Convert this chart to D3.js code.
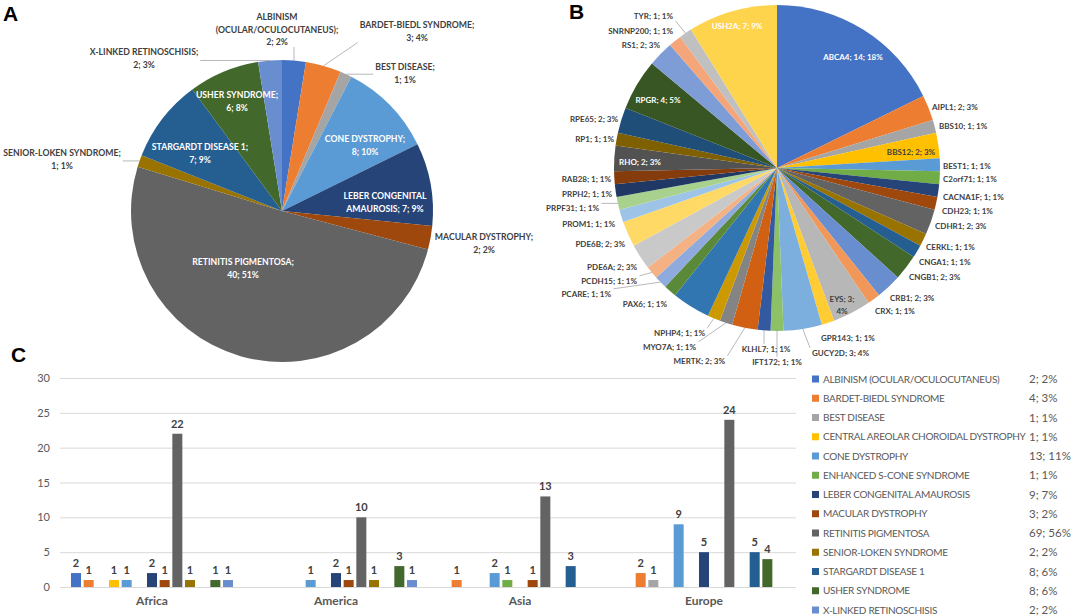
<!DOCTYPE html>
<html>
<head>
<meta charset="utf-8">
<title>Inherited retinal disease cohort</title>
<script src="https://cdnjs.cloudflare.com/ajax/libs/d3/7.8.5/d3.min.js"></script>
<style>
  body { margin: 0; background: #fff; }
  svg { font-family: Lato, "Open Sans", sans-serif; }
  .lbl { font-weight: bold; font-size: 8.7px; fill: #404040; }
  .pieB .lbl { font-size: 8px; }
  .lbl.in { fill: #fff; }
  .leader { fill: none; stroke: #a6a6a6; stroke-width: 0.8; }
  .panel { font-family: "Liberation Sans", Arial, sans-serif; font-weight: bold; font-size: 21px; fill: #000; }
  .grid line { stroke: #d9d9d9; }
  .grid text { fill: #595959; font-size: 11px; }
  .cat text { fill: #595959; font-size: 12px; font-weight: bold; }
  .val { font-weight: bold; font-size: 11px; fill: #404040; }
  .leg { font-size: 10px; letter-spacing: -0.3px; fill: #595959; }
  .legv { font-size: 11.5px; fill: #595959; }
</style>
</head>
<body>
<svg id="fig" width="1072" height="616"></svg>
<script>
// Excel-like colour cycle
var palette = ["#4472C4","#ED7D31","#A5A5A5","#FFC000","#5B9BD5","#70AD47",
  "#264478","#9E480E","#636363","#997300","#255E91","#43682B",
  "#698ED0","#F1975A","#B7B7B7","#FFCD33","#7CAFDD","#8CC168",
  "#335AA1","#D26012","#848484","#CC9A00","#3276B1","#5A8A39",
  "#8FAADC","#F4B183","#C9C9C9","#FFD966","#9DC3E6","#A9D18E",
  "#203864","#843C0C","#525252","#7F6000","#1F4E79","#375623",
  "#7E9CD6","#F4A57A","#C0C0C0","#FFD44D","#90B9E2","#9BCB7B"];

// ---- data: panel A (diseases)
var diseasesA = ["ALBINISM (OCULAR/OCULOCUTANEUS)", "BARDET-BIEDL SYNDROME", "BEST DISEASE",
  "CONE DYSTROPHY", "LEBER CONGENITAL AMAUROSIS", "MACULAR DYSTROPHY", "RETINITIS PIGMENTOSA",
  "SENIOR-LOKEN SYNDROME", "STARGARDT DISEASE 1", "USHER SYNDROME", "X-LINKED RETINOSCHISIS"];
var countsA = [2, 3, 1, 8, 7, 2, 40, 1, 7, 6, 2];
var pctA = ["2%", "4%", "1%", "10%", "9%", "2%", "51%", "1%", "9%", "8%", "3%"];

// ---- data: panel B (genes)
var genes = ["ABCA4","AIPL1","BBS10","BBS12","BEST1","C2orf71","CACNA1F","CDH23","CDHR1","CERKL",
  "CNGA1","CNGB1","CRB1","CRX","EYS","GPR143","GUCY2D","IFT172","KLHL7","MERTK",
  "MYO7A","NPHP4","NR2E3","PAX6","PCARE","PCDH15","PDE6A","PDE6B","PROM1","PRPF31",
  "PRPH2","RAB28","RHO","RP1","RPE65","RPGR","RS1","SNRNP200","TYR","USH2A"];
var countsB = [14, 2, 1, 2, 1, 1, 1, 1, 2, 1,
  1, 2, 2, 1, 3, 1, 3, 1, 1, 2,
  1, 1, 3, 1, 1, 1, 2, 2, 1, 1,
  1, 1, 2, 1, 2, 4, 2, 1, 1, 7];

// ---- data: panel C (diseases by region)
var regions = ["Africa", "America", "Asia", "Europe"];
var diseasesC = ["ALBINISM (OCULAR/OCULOCUTANEUS)", "BARDET-BIEDL SYNDROME", "BEST DISEASE",
  "CENTRAL AREOLAR CHOROIDAL DYSTROPHY", "CONE DYSTROPHY", "ENHANCED S-CONE SYNDROME",
  "LEBER CONGENITAL AMAUROSIS", "MACULAR DYSTROPHY", "RETINITIS PIGMENTOSA",
  "SENIOR-LOKEN SYNDROME", "STARGARDT DISEASE 1", "USHER SYNDROME", "X-LINKED RETINOSCHISIS"];
var africa  = [2, 1, 0, 1, 1, 0, 2, 1, 22, 1, 0, 1, 1];
var america = [0, 0, 0, 0, 1, 0, 2, 1, 10, 1, 0, 3, 1];
var asia    = [0, 1, 0, 0, 2, 1, 0, 1, 13, 0, 3, 0, 0];
var europe  = [0, 2, 1, 0, 9, 0, 5, 0, 24, 0, 5, 4, 0];
var legendTotals = ["2; 2%", "4; 3%", "1; 1%", "1; 1%", "13; 11%", "1; 1%", "9; 7%",
  "3; 2%", "69; 56%", "2; 2%", "8; 6%", "8; 6%", "2; 2%"];
var yTicks = [0, 5, 10, 15, 20, 25, 30];

var diseaseColor = d3.scaleOrdinal(diseasesC, palette.slice(0, 13));
var geneColor = d3.scaleOrdinal(genes, palette);

var svg = d3.select("#fig");
svg.append("rect").attr("width", 1072).attr("height", 616).attr("fill", "#fff");

var pie = d3.pie().sort(null).value(function(d) { return d.v; });
var lineH = 12.5;
var anchors = { s: "start", e: "end", m: "middle" };

// split "NAME; n; p%" into lines after the given token indexes
function labelLines(name, n, p, br) {
  var tok = name.split(" ");
  tok[tok.length - 1] += ";";
  var nameLen = tok.length;
  tok.push(n + ";", p);
  var cuts = br === undefined ? [nameLen] : br;
  var out = [], cur = [];
  tok.forEach(function(t, i) {
    cur.push(t);
    if (cuts.indexOf(i + 1) >= 0) { out.push(cur.join(" ")); cur = []; }
  });
  if (cur.length) out.push(cur.join(" "));
  return out;
}

function drawPie(cls, cx, cy, r, rows, color, layout, pctOf) {
  var g = svg.append("g").attr("class", cls).attr("transform", "translate(" + cx + "," + cy + ")");
  var arc = d3.arc().innerRadius(0).outerRadius(r);
  var arcs = pie(rows);
  g.selectAll("path.slice").data(arcs).enter().append("path")
    .attr("class", "slice")
    .attr("d", arc)
    .attr("fill", function(d) { return color(d.data.name); });
  var lg = g.append("g");
  arcs.forEach(function(a, i) {
    var L = layout[a.data.name];
    if (!L) return;
    var t = lg.append("text").attr("class", "lbl" + (L.inside ? " in" : ""))
      .attr("text-anchor", anchors[L.a || "m"]);
    labelLines(a.data.name, a.data.v, pctOf(i), L.br).forEach(function(s, k) {
      t.append("tspan").attr("x", L.x - cx).attr("y", L.y - cy + k * lineH)
        .attr("dy", "0.35em").text(s);
    });
    if (L.leader) {
      var bb = t.node().getBBox();
      var m = (a.startAngle + a.endAngle) / 2;
      var px = Math.sin(m) * r, py = -Math.cos(m) * r;
      var qx = Math.max(bb.x - 2, Math.min(px, bb.x + bb.width + 2));
      var qy = Math.max(bb.y, Math.min(py, bb.y + bb.height));
      lg.insert("path", "text").attr("class", "leader")
        .attr("d", d3.line()([[qx, qy], [px, py]]));
    }
  });
}

// ---- panel A
var layoutA = {
  "ALBINISM (OCULAR/OCULOCUTANEUS)": { x: 277, y: 17, leader: true, br: [1, 2] },
  "BARDET-BIEDL SYNDROME": { x: 417, y: 25, leader: true },
  "BEST DISEASE": { x: 405, y: 67, leader: true },
  "CONE DYSTROPHY": { x: 365, y: 139, inside: true },
  "LEBER CONGENITAL AMAUROSIS": { x: 385, y: 196, inside: true, br: [2] },
  "MACULAR DYSTROPHY": { x: 484, y: 237 },
  "RETINITIS PIGMENTOSA": { x: 243, y: 262, inside: true },
  "SENIOR-LOKEN SYNDROME": { x: 62, y: 153, leader: true },
  "STARGARDT DISEASE 1": { x: 200, y: 147, inside: true },
  "USHER SYNDROME": { x: 237, y: 95, inside: true },
  "X-LINKED RETINOSCHISIS": { x: 144, y: 52, leader: true }
};
drawPie("pieA", 282, 211, 151,
  diseasesA.map(function(n, i) { return { name: n, v: countsA[i] }; }),
  diseaseColor, layoutA, function(i) { return pctA[i]; });

// ---- panel B  (a: s = starts at x, e = ends at x, m = centred on x)
var totalB = d3.sum(countsB);
var layoutB = {
  "TYR": { x: 673, y: 16, a: "e", leader: true, br: [] }, "SNRNP200": { x: 673, y: 31, a: "e", br: [] },
  "RS1": { x: 660, y: 45, a: "e", br: [] }, "USH2A": { x: 737, y: 26, inside: true, br: [] },
  "ABCA4": { x: 853, y: 57, inside: true, br: [] }, "RPGR": { x: 658, y: 100, inside: true, br: [] },
  "AIPL1": { x: 932, y: 107, a: "s", br: [] }, "BBS10": { x: 939, y: 126, a: "s", br: [] },
  "RPE65": { x: 618, y: 119, a: "e", br: [] }, "RP1": { x: 614, y: 139, a: "e", br: [] },
  "BBS12": { x: 911, y: 152, br: [] }, "RHO": { x: 640, y: 162, inside: true, br: [] },
  "BEST1": { x: 943, y: 166, a: "s", br: [] }, "RAB28": { x: 611, y: 179, a: "e", br: [] },
  "C2orf71": { x: 943, y: 179, a: "s", br: [] }, "PRPH2": { x: 612, y: 194, a: "e", br: [] },
  "CACNA1F": { x: 943, y: 197, a: "s", br: [] }, "PRPF31": { x: 599, y: 208, a: "e", leader: true, br: [] },
  "CDH23": { x: 942, y: 211, a: "s", br: [] }, "PROM1": { x: 615, y: 224, a: "e", br: [] },
  "CDHR1": { x: 935, y: 226, a: "s", br: [] }, "PDE6B": { x: 625, y: 244, a: "e", br: [] },
  "CERKL": { x: 926, y: 247, a: "s", br: [] }, "PDE6A": { x: 637, y: 267, a: "e", br: [] },
  "CNGA1": { x: 919, y: 262, a: "s", br: [] }, "PCDH15": { x: 637, y: 281, a: "e", leader: true, br: [] },
  "CNGB1": { x: 909, y: 277, a: "s", br: [] }, "PCARE": { x: 611, y: 294, a: "e", leader: true, br: [] },
  "CRB1": { x: 890, y: 298, a: "s", br: [] }, "EYS": { x: 842, y: 299, br: [2] },
  "PAX6": { x: 667, y: 304, a: "e", br: [] }, "CRX": { x: 875, y: 311, a: "s", br: [] },
  "NPHP4": { x: 705, y: 333, a: "e", leader: true, br: [] }, "GPR143": { x: 821, y: 338, a: "s", br: [] },
  "MYO7A": { x: 696, y: 347, a: "e", leader: true, br: [] }, "KLHL7": { x: 766, y: 349, leader: true, br: [] },
  "GUCY2D": { x: 812, y: 353, a: "s", leader: true, br: [] }, "MERTK": { x: 725, y: 361, a: "e", leader: true, br: [] },
  "IFT172": { x: 777, y: 362, leader: true, br: [] }
};
drawPie("pieB", 777, 168, 163,
  genes.map(function(n, i) { return { name: n, v: countsB[i] }; }),
  geneColor, layoutB, function(i) { return Math.round(countsB[i] / totalB * 100) + "%"; });

// ---- panel C
var x0 = d3.scaleBand().domain(regions).range([60, 796]).paddingInner(0.105).paddingOuter(0.0525);
var x1 = d3.scaleBand().domain(diseasesC).range([0, x0.bandwidth()]).paddingInner(0.21).paddingOuter(0.105);
var y = d3.scaleLinear().domain([0, 30]).range([587, 378]);

svg.append("g").attr("class", "grid").attr("transform", "translate(60,0)")
  .call(d3.axisLeft(y).tickValues(yTicks).tickSize(-736).tickPadding(10))
  .call(function(g) { g.select(".domain").remove(); })
  .selectAll("text").style("font-family", "Lato, sans-serif");

svg.append("g").attr("class", "cat").attr("transform", "translate(0,587)")
  .call(d3.axisBottom(x0).tickSize(0).tickPadding(9))
  .call(function(g) { g.select(".domain").remove(); })
  .selectAll("text").style("font-family", "Lato, sans-serif");

var byRegion = [africa, america, asia, europe];
var groups = svg.append("g").selectAll("g").data(regions).enter().append("g")
  .attr("transform", function(r) { return "translate(" + x0(r) + ",0)"; });
var cells = groups.selectAll("g").data(function(r, i) {
    return diseasesC.map(function(d, k) { return { d: d, v: byRegion[i][k] }; })
      .filter(function(c) { return c.v > 0; });
  }).enter().append("g");
cells.append("rect")
  .attr("x", function(c) { return x1(c.d); })
  .attr("width", x1.bandwidth())
  .attr("y", function(c) { return y(c.v); })
  .attr("height", function(c) { return y(0) - y(c.v); })
  .attr("fill", function(c) { return diseaseColor(c.d); });
cells.append("text").attr("class", "val").attr("text-anchor", "middle")
  .attr("x", function(c) { return x1(c.d) + x1.bandwidth() / 2; })
  .attr("y", function(c) { return y(c.v) - 6; })
  .text(function(c) { return c.v; });

// legend
var ly = d3.scalePoint().domain(diseasesC).range([379, 610]);
var leg = svg.append("g").selectAll("g").data(diseasesC).enter().append("g")
  .attr("transform", function(d) { return "translate(812," + ly(d) + ")"; });
leg.append("rect").attr("x", 0).attr("y", -3.5).attr("width", 7).attr("height", 7)
  .attr("fill", function(d) { return diseaseColor(d); });
leg.append("text").attr("class", "leg").attr("x", 11).attr("dy", "0.35em").text(function(d) { return d; });
leg.append("text").attr("class", "legv").attr("x", 217).attr("dy", "0.35em")
  .text(function(d, i) { return legendTotals[i]; });

// panel letters
svg.append("text").attr("class", "panel").attr("x", 3).attr("y", 21).text("A");
svg.append("text").attr("class", "panel").attr("x", 569).attr("y", 19).text("B");
svg.append("text").attr("class", "panel").attr("x", 11).attr("y", 362).text("C");
</script>
</body>
</html>
